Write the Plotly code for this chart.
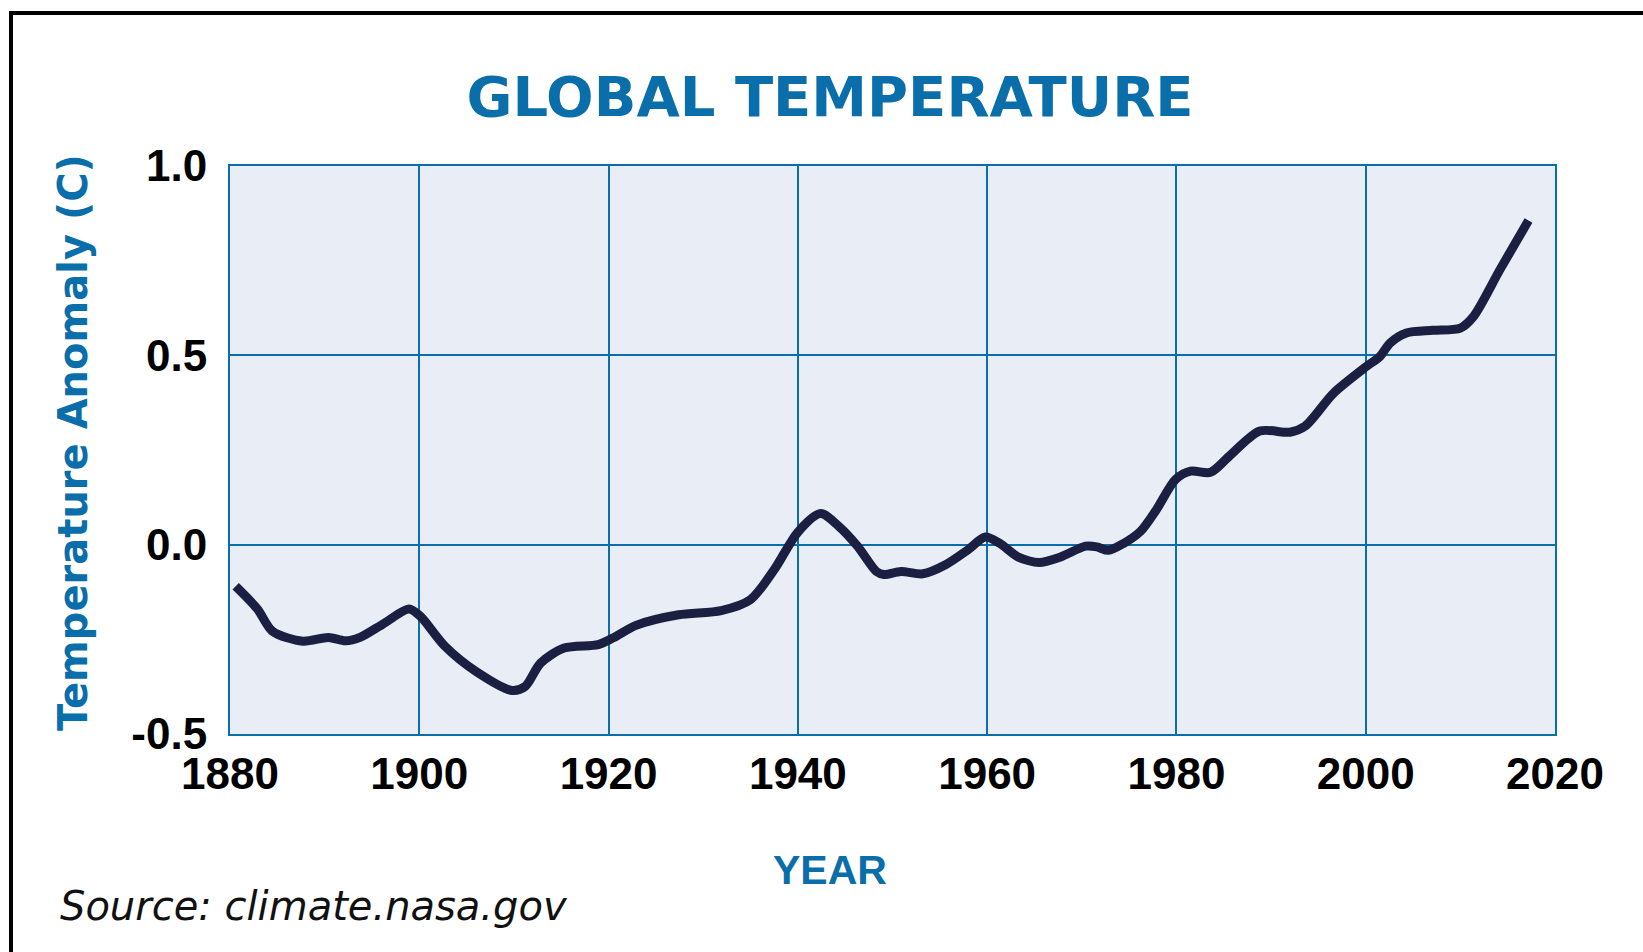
import plotly.graph_objects as go

# Smoothed global temperature anomaly (deg C), read at the curve's turning points
years = [1880.6, 1882.9, 1884.5, 1887.7, 1890.4, 1892.2, 1893.8, 1896.2, 1898.9, 1900.1,
         1902.7, 1906.0, 1909.8, 1911.2, 1912.8, 1915.3, 1918.9, 1920.5, 1922.9, 1927.4,
         1931.9, 1935.0, 1937.5, 1940.0, 1942.4, 1944.3, 1946.3, 1948.3, 1949.1, 1950.9,
         1953.2, 1955.6, 1958.0, 1959.8, 1961.3, 1963.3, 1965.5, 1967.7, 1970.4, 1971.6,
         1972.8, 1974.4, 1976.2, 1977.9, 1979.9, 1981.5, 1983.6, 1985.6, 1988.8, 1992.0,
         1993.6, 1996.6, 2000.1, 2001.5, 2002.6, 2004.3, 2007.1, 2010.0, 2011.4, 2014.2,
         2017.2]
anomaly = [-0.110, -0.170, -0.229, -0.255, -0.245, -0.254, -0.244, -0.209, -0.170, -0.189,
           -0.268, -0.335, -0.385, -0.374, -0.313, -0.273, -0.264, -0.246, -0.213, -0.185,
           -0.174, -0.145, -0.066, 0.033, 0.082, 0.049, -0.004, -0.071, -0.079, -0.071,
           -0.077, -0.053, -0.013, 0.020, 0.004, -0.033, -0.047, -0.033, -0.004, -0.006,
           -0.015, 0.003, 0.035, 0.093, 0.172, 0.194, 0.191, 0.234, 0.300, 0.297,
           0.313, 0.400, 0.471, 0.497, 0.533, 0.559, 0.566, 0.572, 0.603, 0.727,
           0.856]

x_ticks = [1880, 1900, 1920, 1940, 1960, 1980, 2000, 2020]
y_ticks = [-0.5, 0.0, 0.5, 1.0]
y_tick_text = ["-0.5", "0.0", "0.5", "1.0"]

BLUE = "#0a6eaa"
NAVY = "#1b2043"
TICK_FONT = dict(family="Liberation Sans, Arial", size=44, color="#000000", weight="bold")

fig = go.Figure()
fig.add_trace(go.Scatter(
    x=years, y=anomaly, mode="lines",
    line=dict(color=NAVY, width=9, shape="spline", smoothing=0.8),
    hoverinfo="x+y", showlegend=False,
))

W, H = 1643, 952
ML, MR, MT, MB = 230, 88, 166, 218
pw, ph = W - ML - MR, H - MT - MB

def px_to_paper(px, py):
    return (px - ML) / pw, (H - MB - py) / ph

# Outer frame, open past the right and bottom edges of the page
bx0, by1 = px_to_paper(11, 13)
fig.add_shape(type="rect", xref="paper", yref="paper",
              x0=bx0, x1=3, y0=-3, y1=by1,
              line=dict(color="#000000", width=4), layer="above")

# Axis titles and source note
ytx, yty = px_to_paper(73, 443)
fig.add_annotation(text="Temperature Anomaly (C)", xref="paper", yref="paper",
                   x=ytx, y=yty, textangle=-90, showarrow=False,
                   xanchor="center", yanchor="middle",
                   font=dict(family="DejaVu Sans", size=40, color=BLUE, weight="bold"))
xtx, xty = px_to_paper(830, 870)
fig.add_annotation(text="YEAR", xref="paper", yref="paper",
                   x=xtx, y=xty, showarrow=False, xanchor="center", yanchor="middle",
                   font=dict(family="Liberation Sans Narrow, Liberation Sans", size=41,
                             color=BLUE, weight="bold"))
stx, sty = px_to_paper(58, 906)
fig.add_annotation(text="Source: climate.nasa.gov", xref="paper", yref="paper",
                   x=stx, y=sty, showarrow=False, xanchor="left", yanchor="middle",
                   font=dict(family="DejaVu Sans", size=40, color="#111111", style="italic"))

fig.update_layout(
    width=W, height=H, autosize=False,
    margin=dict(l=ML, r=MR, t=MT, b=MB),
    paper_bgcolor="#ffffff",
    plot_bgcolor="#e8edf6",
    title=dict(text="GLOBAL TEMPERATURE", x=830 / W, y=1 - 96 / H,
               xanchor="center", yanchor="middle", xref="container", yref="container",
               font=dict(family="DejaVu Sans", size=56, color=BLUE, weight="bold")),
    xaxis=dict(range=[1880, 2020], tickvals=x_ticks, ticks="",
               showgrid=True, gridcolor=BLUE, gridwidth=2,
               showline=True, linecolor=BLUE, linewidth=2, mirror=True,
               zeroline=False, tickfont=TICK_FONT, ticklabelstandoff=0),
    yaxis=dict(range=[-0.5, 1.0], tickvals=y_ticks, ticktext=y_tick_text, ticks="",
               showgrid=True, gridcolor=BLUE, gridwidth=2,
               showline=True, linecolor=BLUE, linewidth=2, mirror=True,
               zeroline=False, tickfont=TICK_FONT, ticklabelstandoff=12),
)

fig.write_html("out.html")
